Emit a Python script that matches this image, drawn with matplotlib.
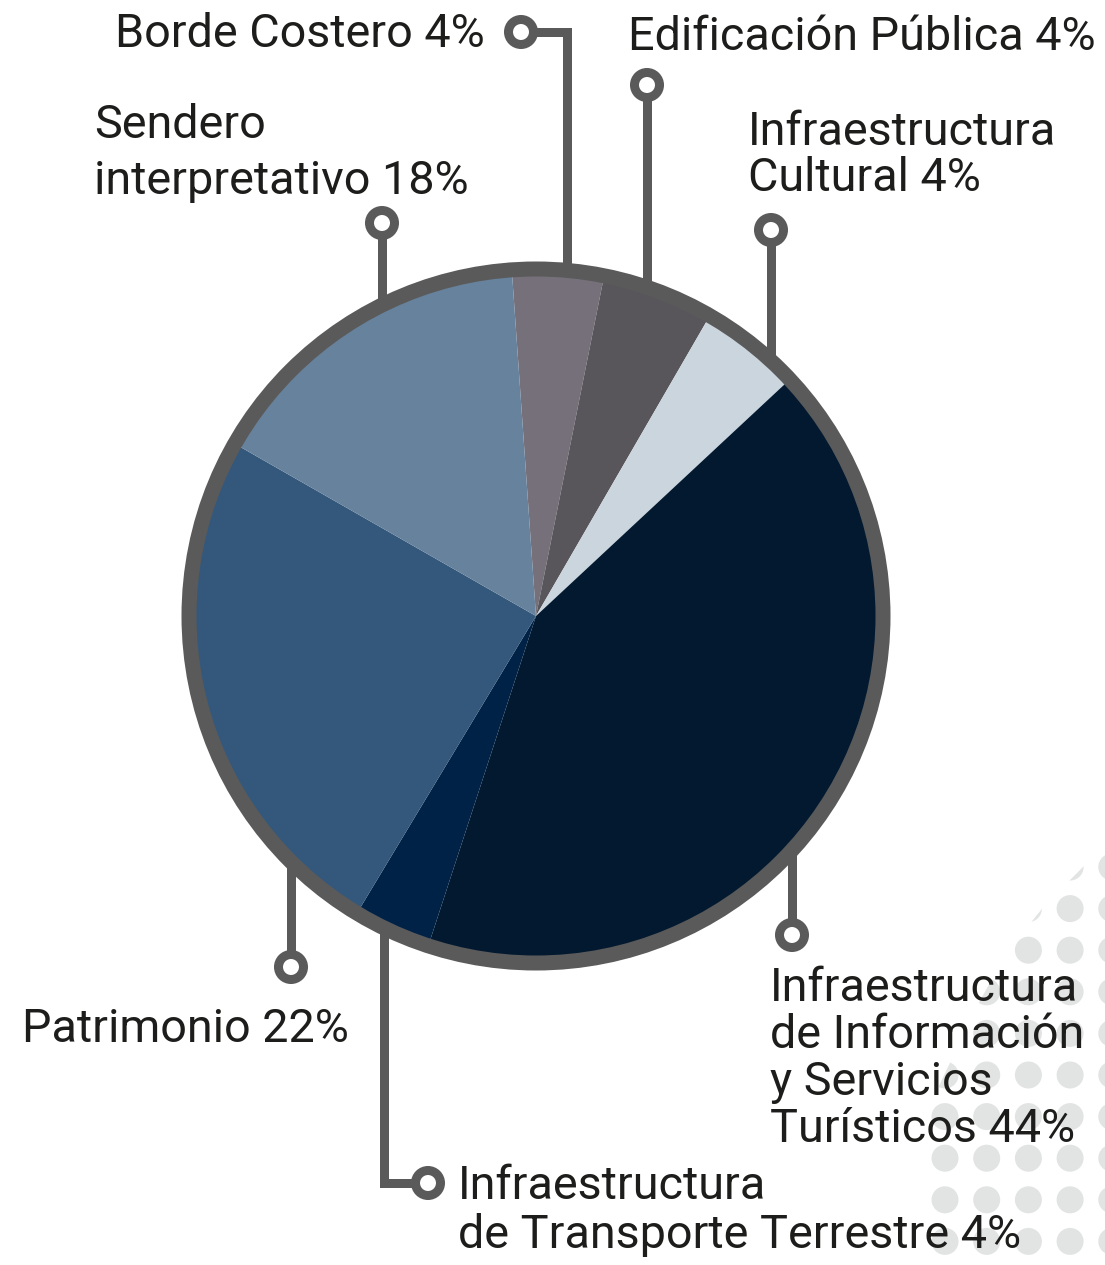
import numpy as np
import matplotlib.pyplot as plt
from matplotlib.patches import Circle, Polygon

# --- data -------------------------------------------------------------
categories = [
    "Borde Costero",
    "Edificación Pública",
    "Infraestructura Cultural",
    "Infraestructura de Información y Servicios Turísticos",
    "Infraestructura de Transporte Terrestre",
    "Patrimonio",
    "Sendero interpretativo",
]
label_pct = [4, 4, 4, 44, 4, 22, 18]
# wedge sizes as drawn in the picture (the artwork does not follow the labels exactly)
wedge_share = [4.25, 5.2, 4.7, 41.9, 3.6, 24.6, 15.6]
colors = ["#76707b", "#58565a", "#cbd5de", "#021930", "#012247", "#34587b", "#67829c"]

# label text lines (the last line gets the percentage appended)
label_lines = [
    ["Borde Costero"],
    ["Edificación Pública"],
    ["Infraestructura", "Cultural"],
    ["Infraestructura", "de Información", "y Servicios", "Turísticos"],
    ["Infraestructura", "de Transporte Terrestre"],
    ["Patrimonio"],
    ["Sendero", "interpretativo"],
]

# --- layout (pixels, y downwards) ------------------------------------
W, H = 1105, 1265
cx, cy = 536, 616
r_pie = 341
r_ring = 347
ring_color = "#5a5a5a"
text_color = "#1d1d1b"

# leader: x of vertical line, side of the pie, y of end, x of end circle
leaders = [
    (567, "top", 32, 521),
    (647, "top", 85, 647),
    (771, "top", 230, 771),
    (792, "bottom", 935, 792),
    (384, "bottom", 1183, 428),
    (291, "bottom", 967, 291),
    (382, "top", 223, 382),
]
# text anchor: x, first baseline, line step, ha
text_pos = [
    (485, 47, 0, "right"),
    (628, 50, 0, "left"),
    (748, 145, 46, "left"),
    (770, 1001, 47, "left"),
    (458, 1199, 49, "left"),
    (22, 1042, 0, "left"),
    (94, 138, 56, "left"),
]

plt.rcParams["font.family"] = ["Roboto", "DejaVu Sans"]

fig = plt.figure(figsize=(W / 100, H / 100), dpi=100)
ax = fig.add_axes([0, 0, 1, 1])

# background dot pattern (decoration, lower right corner)
gx, gy = np.meshgrid(np.arange(945, 1130, 41.7), np.arange(867, 1290, 41.6))
clip = Polygon([(1105, 840), (1100, 850), (1045, 905), (1005, 955), (975, 1010),
                (930, 1105), (930, 1265), (1105, 1265)], closed=True,
               transform=ax.transData, facecolor="none", edgecolor="none")
ax.add_patch(clip)
for x, y in zip(gx.ravel(), gy.ravel()):
    dot = Circle((x, y), 13.5, facecolor="#e2e3e3", edgecolor="none", zorder=0)
    ax.add_patch(dot)
    dot.set_clip_path(clip)

# pie (y axis is flipped, so run counter-clockwise in data = clockwise on screen)
ax.pie(wedge_share, colors=colors, startangle=-94, counterclock=True,
       radius=r_pie, center=(cx, cy), wedgeprops=dict(linewidth=0, zorder=2))
ax.add_patch(Circle((cx, cy), r_ring, facecolor="none", edgecolor=ring_color,
                    linewidth=15 * 0.72, zorder=3))

lw = 9 * 0.72
for (lx, side, yend, xend), lines, pct, (tx, ty, step, ha) in zip(
        leaders, label_lines, label_pct, text_pos):
    dy = np.sqrt(r_ring ** 2 - (lx - cx) ** 2)
    y0 = cy - dy if side == "top" else cy + dy
    ax.plot([lx, lx, xend], [y0, yend, yend], color=ring_color, linewidth=lw,
            solid_joinstyle="miter", solid_capstyle="butt", zorder=1)
    ax.add_patch(Circle((xend, yend), 12.5, facecolor="white", edgecolor=ring_color,
                        linewidth=lw, zorder=4))
    texts = lines[:-1] + [f"{lines[-1]} {pct}%"]
    for i, t in enumerate(texts):
        ax.text(tx, ty + i * step, t, ha=ha, va="baseline", fontsize=33.7,
                color=text_color, zorder=5)

ax.set_xlim(0, W)
ax.set_ylim(H, 0)
ax.set_aspect("auto")
ax.axis("off")

fig.savefig("out.png", dpi=100, facecolor="white")
